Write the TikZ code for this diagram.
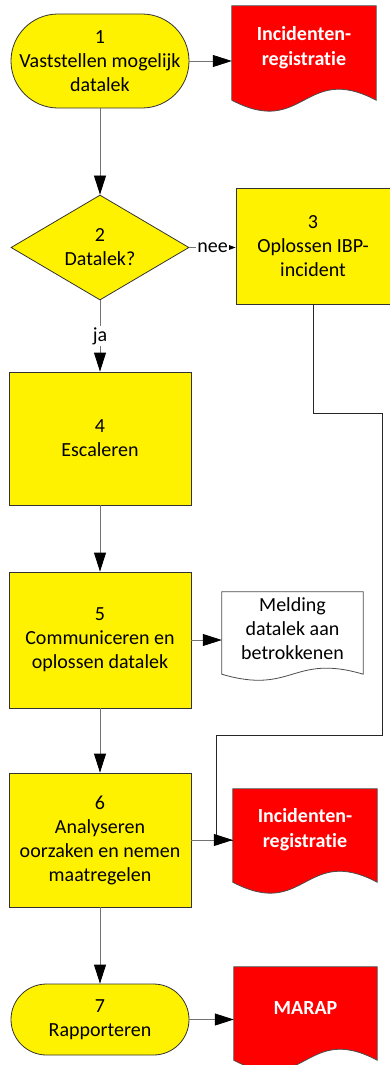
\documentclass[tikz,border=0pt]{standalone}
\usepackage{fontspec}
\setmainfont{Carlito}[Ligatures=CommonOff]
\usetikzlibrary{shapes.geometric,arrows.meta,calc,backgrounds}

\tikzset{
  stap/.style={draw=black!80, line width=0.8pt, fill=yellow, align=center, inner sep=0pt, font=\fontsize{20}{24}\selectfont},
  blok/.style={stap, rectangle, minimum width=182pt},
  eind/.style={stap, rectangle, rounded corners=#1, minimum width=178pt},
  keuze/.style={stap, diamond, aspect=1.7, minimum width=178pt, minimum height=105pt},
  doc/.style={align=center, inner sep=0pt, font=\fontsize{20}{24}\selectfont},
  rooddoc/.style={doc, text=white, font=\fontsize{20}{25}\selectfont\bfseries},
  lijn/.style={draw=black!55, line width=0.8pt, -{Triangle[length=19pt,width=12pt,color=black]}},
  kort/.style={draw=black!55, line width=0.8pt, -{Triangle[length=7pt,width=5pt,color=black]}},
  dun/.style={draw=black!85, line width=0.7pt},
  lbl/.style={fill=white, inner sep=1pt, font=\fontsize{20}{24}\selectfont},
}

% document met golvende onderkant
\newcommand\docvorm[4]{%
  \path[draw=black!70, line width=0.8pt, fill=#2]
    (#1.north west) -- (#1.north east) -- ($(#1.south east)+(0,#3)$)
    .. controls ($(#1.south)+(0,{#3-#4})$) and ($(#1.south)+(0,{#3+#4})$)
    .. ($(#1.south west)+(0,#3)$) -- cycle;}

\begin{document}
\begin{tikzpicture}[x=1pt,y=-1pt]
    \useasboundingbox (0,0) rectangle (390,1065);

    % Stappen
    \node[eind=47pt, minimum height=94pt] (s1) at (100,61) {1\\Vaststellen mogelijk\\datalek};
    \node[keuze] (s2) at (100,247.5) {2\\Datalek?};
    \node[stap, minimum width=154pt, minimum height=116pt] (s3) at (313,246) {3\\Oplossen IBP-\\incident};
    \node[blok, minimum height=133pt] (s4) at (100,438.5) {4\\Escaleren};
    \node[blok, minimum height=136pt] (s5) at (100,640) {5\\Communiceren en\\oplossen datalek};
    \node[blok, minimum height=134pt] (s6) at (100,840) {6\\Analyseren\\oorzaken en nemen\\maatregelen};
    \node[eind=35.5pt, minimum height=71pt] (s7) at (100,1019.5) {7\\Rapporteren};

    % Documenten
    \node[rooddoc, minimum width=144pt, minimum height=83pt] (d1) at (304,47.5) {Incidenten-\\registratie};
    \node[doc, minimum width=141pt, minimum height=73pt] (d5) at (292.5,628.5) {Melding\\datalek aan\\betrokkenen};
    \node[rooddoc, minimum width=144pt, minimum height=82pt] (d6) at (305,830) {Incidenten-\\registratie};
    \node[rooddoc, minimum width=143pt, minimum height=82pt] (d7) at (305.5,1008) {MARAP};
    \begin{scope}[on background layer]
        \docvorm{d1}{red}{11}{38}
        \docvorm{d5}{white}{9}{21}
        \docvorm{d6}{red}{11}{38}
        \docvorm{d7}{red}{11}{38}
    \end{scope}

    % Verbindingen
    \draw[lijn] (s1) -- (s2);
    \draw[lijn] (s1.east) -- (s1.east -| d1.west);
    \draw[kort] (s2.east) -- node[lbl] {nee} (s2.east -| s3.west);
    \draw[lijn] (s2) -- node[lbl] {ja} (s4);
    \draw[lijn] (s4) -- (s5);
    \draw[lijn] (s5.east) -- (s5.east -| d5.west);
    \draw[lijn] (s5) -- (s6);
    \draw[lijn] (s6) -- (s7);
    \draw[lijn] (s7.east) -- (s7.east -| d7.west);

    % Terug van 3 naar registratie
    \coordinate (k1) at (382,413);
    \coordinate (k2) at (216,735);
    \coordinate (j6) at (s6.east -| d6.west);
    \draw[dun] (s3.south) |- (k1) |- (k2) |- (j6);
    \draw[lijn] (s6.east) -- (j6);
\end{tikzpicture}
\end{document}
